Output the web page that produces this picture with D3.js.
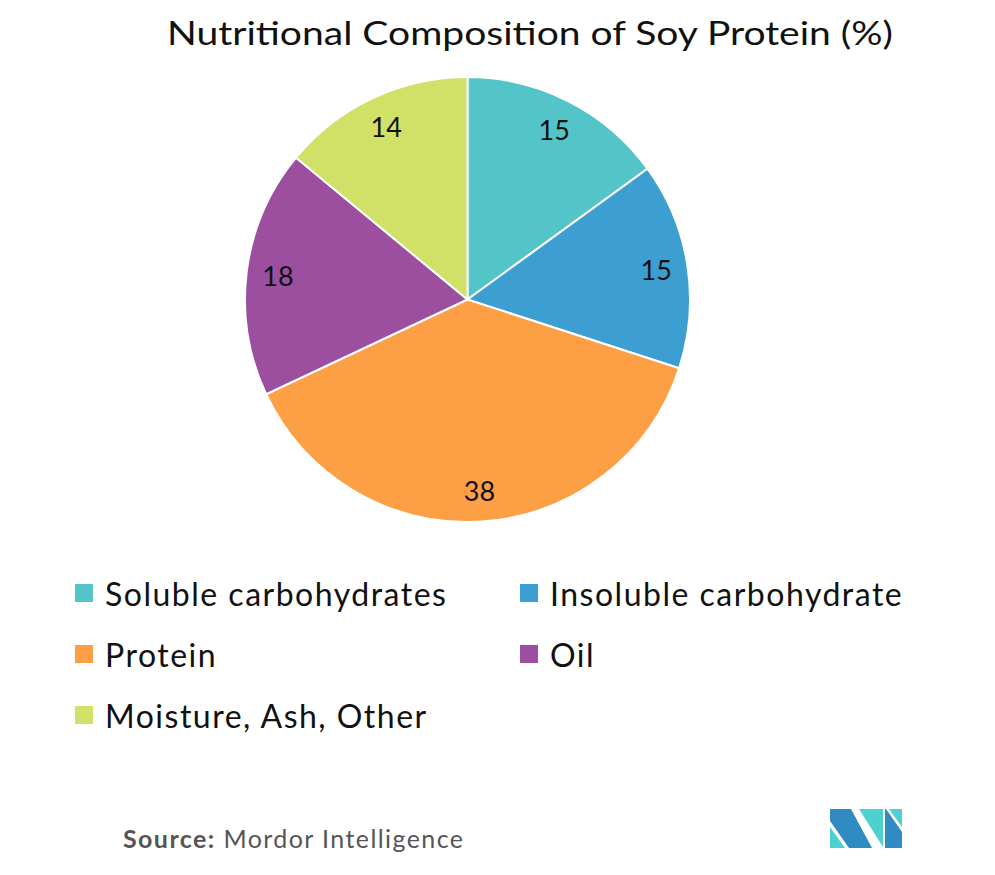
<!DOCTYPE html>
<html><head><meta charset="utf-8">
<script src="https://cdn.jsdelivr.net/npm/d3@7"></script>
<style>body{margin:0;background:#fff;} svg{display:block;}</style>
</head><body>
<svg id="chart" width="995" height="875"></svg>
<script>
const categories = ["Soluble carbohydrates","Insoluble carbohydrate","Protein","Oil","Moisture, Ash, Other"];
const values = [15, 15, 38, 18, 14];
const colors = ["#53c4c8","#3d9fd1","#fd9f44","#9b4f9e","#d1e066"];
const title = "Nutritional Composition of Soy Protein (%)";

const svg = d3.select("#chart");
const font = "Lato, 'Noto Sans', sans-serif";

svg.append("text").attr("x", 167).attr("y", 45)
  .attr("font-family", font).attr("font-size", 33).attr("fill", "#111")
  .attr("textLength", 726).attr("lengthAdjust", "spacingAndGlyphs")
  .text(title);

const cx = 467.5, cy = 299.5, R = 222.5;
const pie = d3.pie().sort(null).value(d => d)(values);
const arc = d3.arc().innerRadius(0).outerRadius(R);
const labelArc = d3.arc().innerRadius(191).outerRadius(191);
const g = svg.append("g").attr("transform", `translate(${cx},${cy})`);
g.selectAll("path").data(pie).join("path")
  .attr("d", arc).attr("fill", (d,i) => colors[i])
  .attr("stroke", "#fff").attr("stroke-width", 2);
g.selectAll("text").data(pie).join("text")
  .attr("transform", d => `translate(${labelArc.centroid(d)})`)
  .attr("text-anchor", "middle").attr("dominant-baseline", "central")
  .attr("font-family", font).attr("font-size", 27).attr("fill", "#111")
  .text(d => d.data);

const legX = [75, 520], legY = [593, 654, 715];
const leg = svg.append("g");
categories.forEach((c, i) => {
  const x = legX[i % 2], y = legY[Math.floor(i / 2)];
  leg.append("rect").attr("x", x).attr("y", y - 9).attr("width", 18).attr("height", 18).attr("fill", colors[i]);
  leg.append("text").attr("x", x + 30).attr("y", y).attr("dominant-baseline", "central")
    .attr("font-family", font).attr("font-size", 32).attr("letter-spacing", 1.5)
    .attr("fill", "#111").text(c);
});

const src = svg.append("text").attr("x", 123).attr("y", 848)
  .attr("font-family", font).attr("font-size", 25).attr("fill", "#555")
  .attr("textLength", 340).attr("lengthAdjust", "spacing");
src.append("tspan").attr("font-weight", "bold").text("Source:");
src.append("tspan").text(" Mordor Intelligence");

const logo = svg.append("g");
const polys = [
  {c:"#4ecfd0", p:[[830,827],[830,848],[845,848]]},
  {c:"#2f8bc1", p:[[830,809],[851,809],[872,848],[849,848],[830,821]]},
  {c:"#4ecfd0", p:[[859,809],[883,809],[883,847]]},
  {c:"#2f8bc1", p:[[885,809],[886,809],[902,832],[902,848],[885,848]]},
  {c:"#4ecfd0", p:[[889,809],[902,809],[902,827]]}
];
polys.forEach(d => logo.append("polygon").attr("points", d.p.map(q => q.join(",")).join(" ")).attr("fill", d.c));
</script>
</body></html>
